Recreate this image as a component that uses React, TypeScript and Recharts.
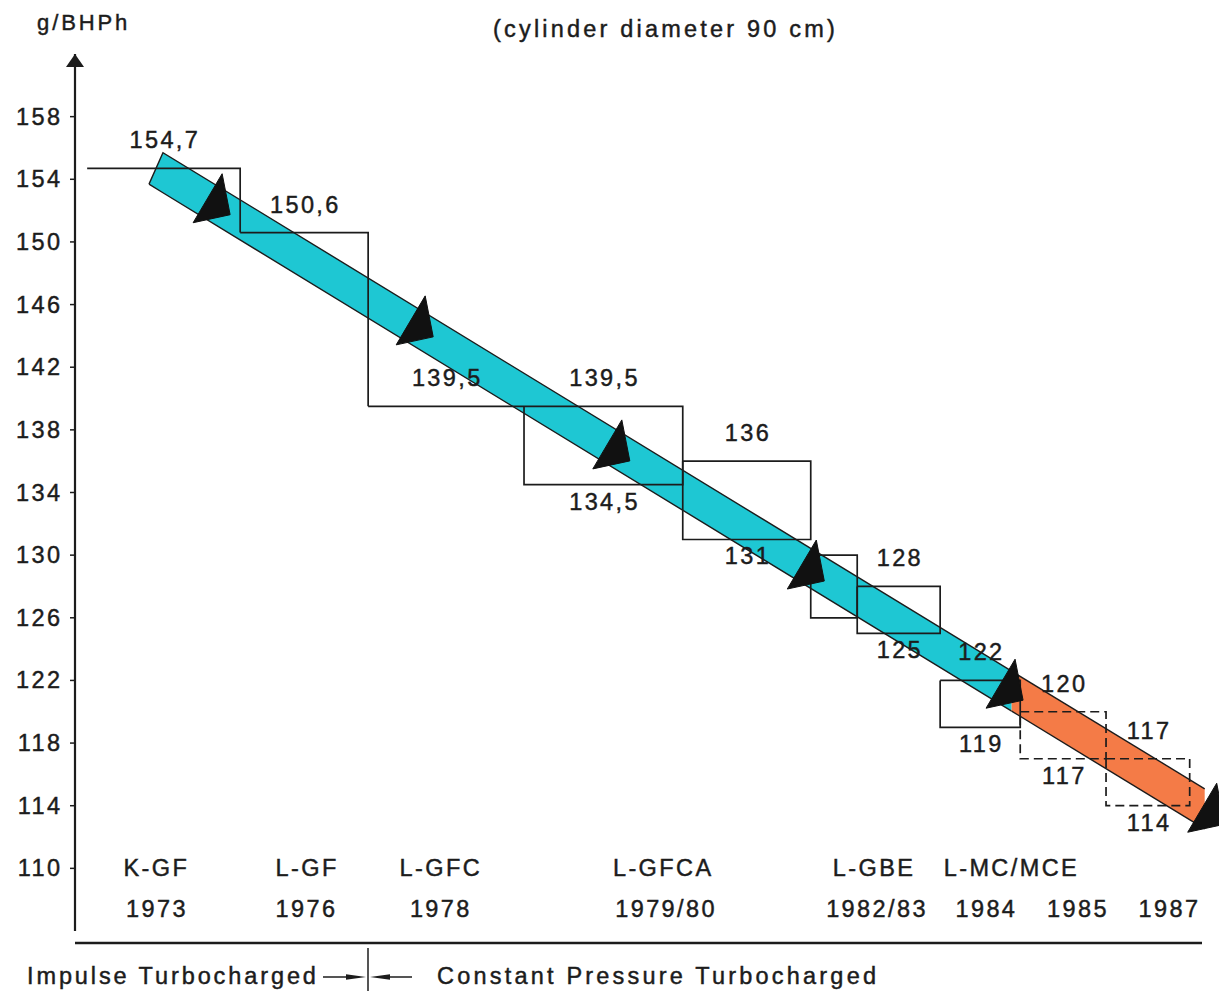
import React from 'react';
import { ComposedChart, XAxis, YAxis, Area, Line, Scatter } from 'recharts';

const FONT = '"Liberation Sans", Arial, Helvetica, sans-serif';
const INK = '#1c1c1c';
const CYAN = '#1ec7d3';
const ORANGE = '#f47b47';

// ---- axis ----
const yTicks = [110, 114, 118, 122, 126, 130, 134, 138, 142, 146, 150, 154, 158];

// ---- step boxes (timeline position of edges, consumption values g/BHPh) ----
const boxStart = [0.17, 2.31, 4.1, 6.28, 8.5, 10.29, 10.94, 12.1, 13.22, 14.42];
const boxEnd = [2.31, 4.1, 6.28, 8.5, 10.29, 10.94, 12.1, 13.22, 14.42, 15.59];
const boxTop = [154.7, 150.6, 139.5, 139.5, 136, 130, 128, 122, 120, 117];
const boxBottom = [150.6, 139.5, 139.5, 134.5, 131, 126, 125, 119, 117, 114];
const topLabels = ['154,7', '150,6', '139,5', '139,5', '136', '', '128', '122', '120', '117'];
const bottomLabels = ['', '', '', '134,5', '131', '', '125', '119', '117', '114'];
const boxKind = ['step', 'step', 'step', 'box', 'box', 'box', 'box', 'box', 'dashed', 'dashed'];

// ---- development band ----
const bandCyan = [
  { x: 1.035, band: [153.69, 153.69] },
  { x: 1.23, band: [153.14, 155.7] },
  { x: 13.1, band: [120.04, 122.59] },
];
const bandOrange = [
  { x: 13.1, band: [120.04, 122.59] },
  { x: 15.8, band: [112.52, 115.08] },
];

// ---- arrowheads along the band ----
const arrowX = [1.96, 4.8, 7.55, 10.27, 13.05, 15.87];
const arrowY = [152.44, 144.64, 136.72, 129.05, 121.44, 113.52];

// ---- engine types and years ----
const modelNames = ['K-GF', 'L-GF', 'L-GFC', 'L-GFCA', 'L-GBE', 'L-MC/MCE'];
const modelX = [1.12, 3.23, 5.1, 8.21, 11.16, 13.08];
const yearNames = ['1973', '1976', '1978', '1979/80', '1982/83', '1984', '1985', '1987'];
const yearX = [1.13, 3.22, 5.1, 8.25, 11.2, 12.73, 14.01, 15.29];
const MODEL_ROW = 110;
const YEAR_ROW = 107.4;

type Pt = { x: number; y: number; label?: string };

const outline = (i: number): Pt[] => {
  const s = boxStart[i], e = boxEnd[i], t = boxTop[i], b = boxBottom[i];
  if (boxKind[i] === 'step') {
    return t === b ? [{ x: s, y: t }, { x: e, y: t }] : [{ x: s, y: t }, { x: e, y: t }, { x: e, y: b }];
  }
  return [{ x: s, y: t }, { x: e, y: t }, { x: e, y: b }, { x: s, y: b }, { x: s, y: t }];
};

const topLabelPts: Pt[] = boxTop
  .map((t, i) => ({ x: (boxStart[i] + boxEnd[i]) / 2, y: t, label: topLabels[i] }))
  .filter((p) => p.label !== '');
const bottomLabelPts: Pt[] = boxBottom
  .map((b, i) => ({ x: (boxStart[i] + boxEnd[i]) / 2, y: b, label: bottomLabels[i] }))
  .filter((p) => p.label !== '');
const arrowPts: Pt[] = arrowX.map((x, i) => ({ x, y: arrowY[i] }));
const modelPts: Pt[] = modelNames.map((n, i) => ({ x: modelX[i], y: MODEL_ROW, label: n }));
const yearPts: Pt[] = yearNames.map((n, i) => ({ x: yearX[i], y: YEAR_ROW, label: n }));

const textStyle: React.CSSProperties = {
  fontFamily: FONT,
  fontSize: 23.5,
  letterSpacing: 2.4,
  fill: INK,
  stroke: INK,
  strokeWidth: 0.45,
};

const textShape = (dy: number) => (props: any) => {
  const { cx, cy, payload } = props;
  if (cx == null || cy == null) return <g />;
  return (
    <text x={cx + 1.2} y={cy + dy} textAnchor="middle" dominantBaseline="central" style={textStyle}>
      {payload.label}
    </text>
  );
};

const arrowShape = (props: any) => {
  const { cx, cy } = props;
  if (cx == null || cy == null) return <g />;
  return (
    <path
      d={`M${cx + 7},${cy - 30} L${cx + 15},${cy + 11} L${cx - 22},${cy + 19} Z`}
      fill="#111"
      stroke="#111"
      strokeWidth={1}
      strokeLinejoin="round"
    />
  );
};

const YTick = (props: any) => {
  const { x, y, payload } = props;
  return (
    <text x={x + 2.4} y={y} textAnchor="end" dominantBaseline="central" style={textStyle}>
      {payload.value}
    </text>
  );
};

const htmlText: React.CSSProperties = {
  position: 'absolute',
  fontFamily: FONT,
  fontSize: 23.5,
  lineHeight: '23px',
  letterSpacing: '2.9px',
  color: INK,
  whiteSpace: 'nowrap',
  WebkitTextStroke: '0.45px #1c1c1c',
};

export default function App() {
  return (
    <div style={{ position: 'absolute', left: 0, top: 0, width: 1219, height: 991, background: '#fff', overflow: 'hidden' }}>
      <ComposedChart width={1219} height={991} margin={{ top: 54, right: 0, bottom: 60, left: 0 }}>
        <XAxis type="number" dataKey="x" domain={[0, 16]} hide allowDataOverflow />
        <YAxis
          type="number"
          domain={[106, 162]}
          ticks={yTicks}
          width={75}
          interval={0}
          allowDataOverflow
          axisLine={{ stroke: INK, strokeWidth: 2.2 }}
          tickLine={{ stroke: INK, strokeWidth: 1.5 }}
          tickSize={5}
          tickMargin={10}
          tick={<YTick />}
        />
        <Area
          data={bandCyan}
          dataKey="band"
          type="linear"
          fill={CYAN}
          fillOpacity={1}
          stroke={INK}
          strokeWidth={1.4}
          dot={false}
          activeDot={false}
          isAnimationActive={false}
        />
        <Area
          data={bandOrange}
          dataKey="band"
          type="linear"
          fill={ORANGE}
          fillOpacity={1}
          stroke={INK}
          strokeWidth={1.4}
          dot={false}
          activeDot={false}
          isAnimationActive={false}
        />
        {boxStart.map((_, i) => (
          <Line
            key={`box-${i}`}
            data={outline(i)}
            dataKey="y"
            type="linear"
            stroke={INK}
            strokeWidth={1.7}
            strokeDasharray={boxKind[i] === 'dashed' ? '9 5' : undefined}
            dot={false}
            activeDot={false}
            isAnimationActive={false}
          />
        ))}
        <Scatter data={topLabelPts} dataKey="y" shape={textShape(-28)} isAnimationActive={false} />
        <Scatter data={bottomLabelPts} dataKey="y" shape={textShape(17)} isAnimationActive={false} />
        <Scatter data={modelPts} dataKey="y" shape={textShape(0)} isAnimationActive={false} />
        <Scatter data={yearPts} dataKey="y" shape={textShape(0)} isAnimationActive={false} />
        <Scatter data={arrowPts} dataKey="y" shape={arrowShape} isAnimationActive={false} />
      </ComposedChart>

      <svg
        width={1219}
        height={991}
        style={{ position: 'absolute', left: 0, top: 0, pointerEvents: 'none' }}
      >
        {/* y-axis arrow */}
        <path d="M75,54 L84,67 L66,67 Z" fill={INK} />
        {/* baseline */}
        <line x1={75} y1={943} x2={1202} y2={943} stroke={INK} strokeWidth={2.6} />
        {/* divider impulse / constant pressure */}
        <line x1={368} y1={948} x2={368} y2={991} stroke={INK} strokeWidth={1.5} />
        <line x1={323} y1={977} x2={350} y2={977} stroke={INK} strokeWidth={1.5} />
        <path d="M346,974.3 L366,977 L346,979.7 Z" fill={INK} />
        <path d="M390,974.3 L370,977 L390,979.7 Z" fill={INK} />
        <line x1={388} y1={977} x2={412} y2={977} stroke={INK} strokeWidth={1.5} />
      </svg>

      <div style={{ ...htmlText, left: 37, top: 11, fontSize: 22 }}>g/BHPh</div>
      <div style={{ ...htmlText, left: 493, top: 18, letterSpacing: '3.2px' }}>(cylinder diameter 90 cm)</div>
      <div style={{ ...htmlText, left: 27, top: 965 }}>Impulse Turbocharged</div>
      <div style={{ ...htmlText, left: 437, top: 965, letterSpacing: '3.2px' }}>Constant Pressure Turbocharged</div>
    </div>
  );
}
